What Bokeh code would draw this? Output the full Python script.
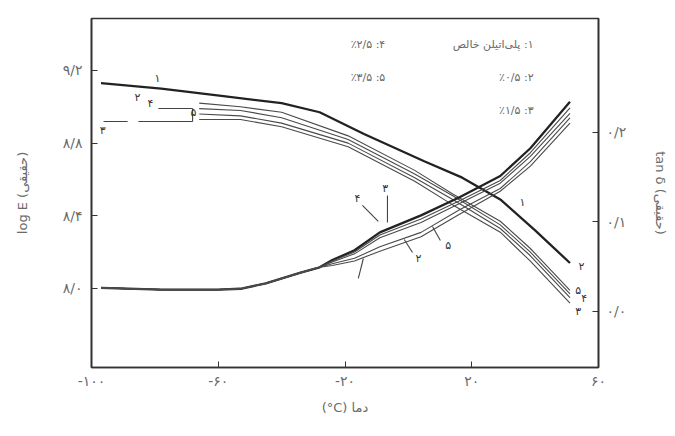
from bokeh.plotting import figure
from bokeh.models import Range1d, LinearAxis, FixedTicker, ColumnDataSource
from bokeh.core.properties import value
from bokeh.embed import file_html
from bokeh.resources import INLINE

# ---- data: storage modulus (log E, left axis) ----
T_E1 = [-97, -78, -59, -40, -28, -14, 5, 17, 29, 40, 51]
E1 = [9.13, 9.10, 9.06, 9.02, 8.97, 8.85, 8.70, 8.61, 8.49, 8.32, 8.14]

T_E = [-66, -53, -40, -19, 2, 14, 29, 38.5, 51]
E2 = [9.02, 9.00, 8.97, 8.84, 8.65, 8.52, 8.37, 8.22, 7.99]
E4 = [8.99, 8.98, 8.94, 8.82, 8.63, 8.51, 8.35, 8.20, 7.97]
E5 = [8.96, 8.95, 8.91, 8.80, 8.61, 8.49, 8.33, 8.18, 7.95]
E3 = [8.93, 8.93, 8.89, 8.78, 8.59, 8.46, 8.31, 8.15, 7.92]

# ---- data: tan delta (right axis) ----
T_tan_common = [-97, -78, -60, -53, -45, -34, -28]
tan_common = [0.026, 0.024, 0.024, 0.025, 0.031, 0.043, 0.049]
T_tan = [-24, -17, -9, 4, 16, 29, 38.5, 51]
tan1 = [0.057, 0.068, 0.088, 0.107, 0.127, 0.151, 0.182, 0.234]
tan4 = [0.056, 0.066, 0.085, 0.103, 0.123, 0.146, 0.177, 0.227]
tan3 = [0.055, 0.064, 0.082, 0.099, 0.120, 0.143, 0.173, 0.221]
tan5 = [0.053, 0.059, 0.072, 0.088, 0.113, 0.137, 0.167, 0.216]
tan2 = [0.051, 0.056, 0.067, 0.083, 0.108, 0.134, 0.162, 0.210]

# ---- ticks ----
x_ticks = [-100, -60, -20, 20, 60]
x_tick_labels = ["-۱۰۰", "-۶۰", "-۲۰", "۲۰", "۶۰"]
e_ticks = [8.0, 8.4, 8.8, 9.2]
e_tick_labels = ["۸/۰", "۸/۴", "۸/۸", "۹/۲"]
tan_ticks = [0.0, 0.1, 0.2]
tan_tick_labels = ["۰/۰", "۰/۱", "۰/۲"]

# ---- legend text (RTL) ----
RLI, PDI = "\u2067", "\u2069"
legend_texts = ["۱: پلی‌اتیلن خالص", "۴: ٪۲/۵", "۲: ٪۰/۵", "۵: ٪۳/۵", "۳: ٪۱/۵"]
legend_x = [39.5, -7.3, 39.5, -7.3, 39.5]
legend_y = [9.343, 9.343, 9.161, 9.161, 8.980]

# ---- curve number labels ----
num_texts = ["۱", "۱", "۲", "۴", "۵", "۳", "۲", "۵", "۴", "۳", "۴", "۳", "۵", "۲"]
num_x = [-79.2, 36.0, -85.5, -81.4, -67.8, -96.5, 54.6, 53.6, 55.5, 53.6, -16.1, -7.3, 12.6, 3.2]
num_y = [9.156, 8.474, 9.051, 9.018, 8.969, 8.870, 8.121, 7.989, 7.945, 7.874, 8.496, 8.551, 8.237, 8.165]

# leader segments (x0, y0, x1, y1) in data units
lead_x0 = [-78.9, -96.2, -85.2, -68.1, -14.5, -6.6, 7.6, -1.3, -15.8]
lead_y0 = [8.991, 8.919, 8.919, 8.991, 8.457, 8.512, 8.341, 8.270, 8.055]
lead_x1 = [-68.1, -88.6, -68.1, -68.1, -9.5, -6.6, 10.1, 1.3, -14.2]
lead_y1 = [8.991, 8.919, 8.919, 8.919, 8.369, 8.363, 8.264, 8.198, 8.165]

FONT = "DejaVu Sans"
INK = "#333333"
GREY = "#6a6a6a"

p = figure(width=675, height=430, x_range=Range1d(-100, 60), y_range=Range1d(7.565, 9.486),
           output_backend="svg", toolbar_location=None,
           min_border_left=91, min_border_right=77, min_border_top=18, min_border_bottom=63)
p.extra_y_ranges = {"tan": Range1d(-0.063, 0.327)}
p.grid.visible = False
p.outline_line_color = INK
p.outline_line_width = 1.6
p.background_fill_color = "white"
p.border_fill_color = "white"

def style_axis(ax):
    ax.axis_line_color = INK
    ax.axis_line_width = 1.6
    ax.major_tick_in = 6
    ax.major_tick_out = 0
    ax.minor_tick_line_color = None
    ax.major_tick_line_color = INK
    ax.major_label_text_font = FONT
    ax.major_label_text_font_size = "14px"
    ax.major_label_text_color = GREY
    ax.axis_label_text_font = FONT
    ax.axis_label_text_font_size = "13px"
    ax.axis_label_text_font_style = "normal"
    ax.axis_label_text_color = GREY

xa = p.xaxis[0]
xa.ticker = FixedTicker(ticks=x_ticks)
xa.major_label_overrides = dict(zip(x_ticks, x_tick_labels))
xa.axis_label = "(°C) دما"
style_axis(xa)
xa.axis_label_standoff = 8

ya = p.yaxis[0]
ya.ticker = FixedTicker(ticks=e_ticks)
ya.major_label_overrides = dict(zip(e_ticks, e_tick_labels))
ya.axis_label = "log E (حقیقی)"
style_axis(ya)
ya.major_label_standoff = 9
ya.axis_label_standoff = 30

ra = LinearAxis(y_range_name="tan", ticker=FixedTicker(ticks=tan_ticks),
                major_label_overrides=dict(zip(tan_ticks, tan_tick_labels)),
                axis_label="tan δ (حقیقی)")
style_axis(ra)
ra.major_label_standoff = 8
ra.axis_label_standoff = 24
p.add_layout(ra, "right")

# log E curves
p.line(T_E1, E1, line_color="#222222", line_width=2.3)
for ys in (E2, E4, E5, E3):
    p.line(T_E, ys, line_color="#4a4a4a", line_width=1.1)

# tan delta curves
p.line(T_tan_common + T_tan, tan_common + tan1, line_color="#222222", line_width=2.3, y_range_name="tan")
for ys in (tan4, tan3, tan5, tan2):
    p.line(T_tan_common + T_tan, tan_common + ys, line_color="#4a4a4a", line_width=1.1, y_range_name="tan")

# leader segments
p.segment(lead_x0, lead_y0, lead_x1, lead_y1, line_color="#444444", line_width=1.1)

# curve numbers
p.text(x=num_x, y=num_y, text=num_texts, text_font=value(FONT), text_font_size="11px",
       text_color="#333333", text_align="center", text_baseline="middle")

# legend text
src = ColumnDataSource(dict(x=legend_x, y=legend_y, t=[RLI + s + PDI for s in legend_texts]))
p.text(x="x", y="y", text="t", source=src, text_font=value(FONT), text_font_size="11px",
       text_color=GREY, text_align="right", text_baseline="middle")

open("out.html", "w").write(file_html(p, INLINE))
